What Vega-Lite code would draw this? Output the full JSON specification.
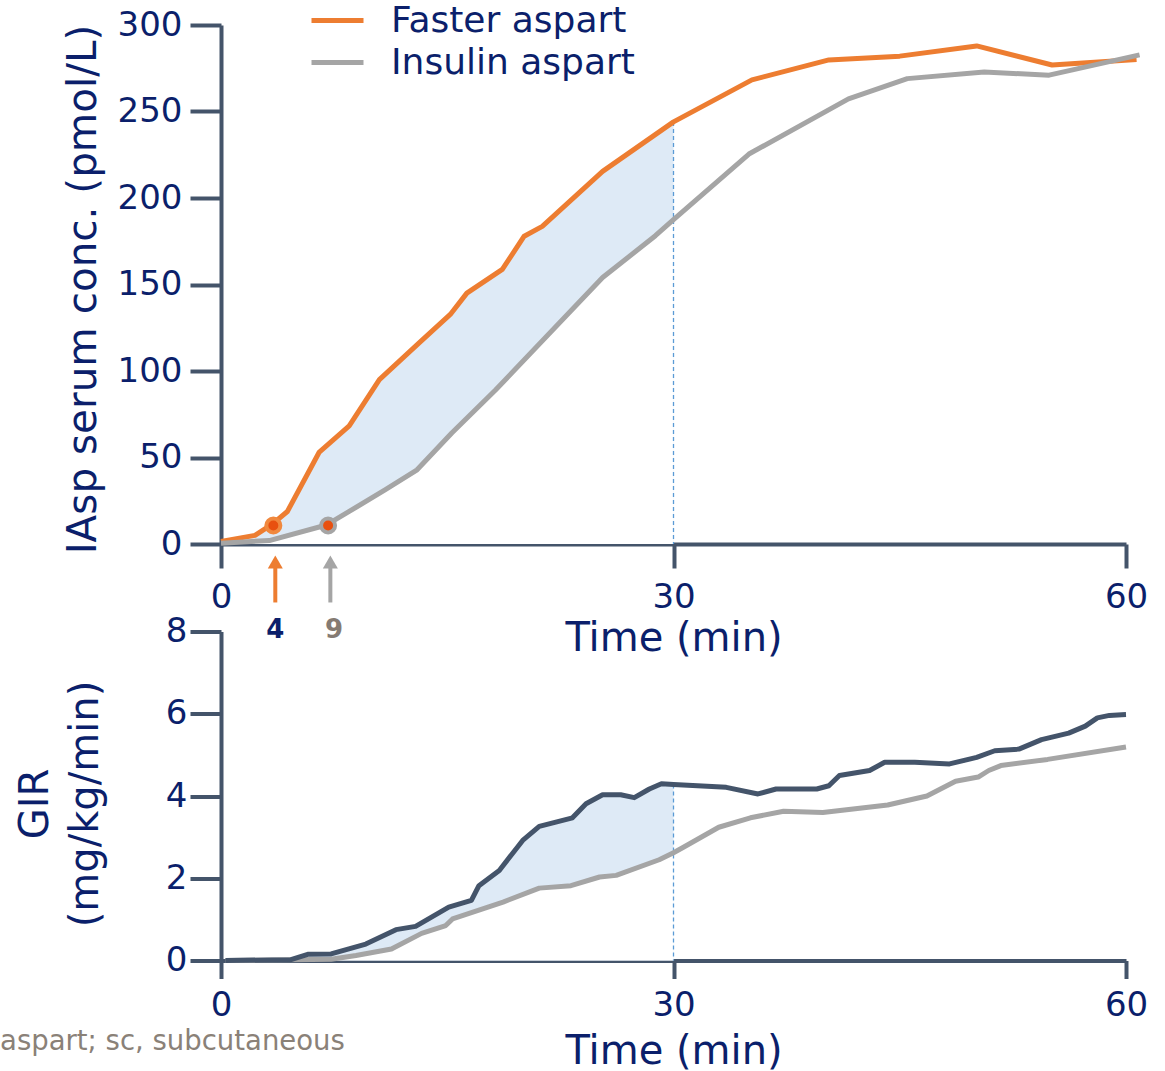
{
  "$schema": "https://vega.github.io/schema/vega-lite/v6.json",
  "background": "white",
  "padding": {"left": 0, "top": 1, "right": 5, "bottom": 0},
  "config": {
    "font": "DejaVu Sans",
    "view": {"stroke": null},
    "axis": {
      "domainColor": "#44546A", "domainWidth": 4, "tickColor": "#44546A", "tickWidth": 4,
      "labelColor": "#0B1F6B", "titleColor": "#0B1F6B", "labelFont": "DejaVu Sans", "titleFont": "DejaVu Sans",
      "labelFontSize": 34, "titleFontSize": 40, "titleFontWeight": "normal", "grid": false, "zindex": 1,
      "labelOverlap": false, "labelFlush": false
    }
  },
  "bounds": "flush",
  "spacing": 87.5,
  "resolve": {"scale": {"x": "independent", "y": "independent", "color": "independent"}},
  "datasets": {
    "iasp": [
      {"series": "Faster aspart", "t": 0, "v": 1.5},
      {"series": "Faster aspart", "t": 2.25, "v": 5},
      {"series": "Faster aspart", "t": 3.4, "v": 11.5},
      {"series": "Faster aspart", "t": 4.4, "v": 18.8},
      {"series": "Faster aspart", "t": 6.5, "v": 52.9},
      {"series": "Faster aspart", "t": 8.5, "v": 68.3},
      {"series": "Faster aspart", "t": 10.5, "v": 95},
      {"series": "Faster aspart", "t": 13.1, "v": 116},
      {"series": "Faster aspart", "t": 15.2, "v": 132.7},
      {"series": "Faster aspart", "t": 16.3, "v": 145},
      {"series": "Faster aspart", "t": 18.65, "v": 158.7},
      {"series": "Faster aspart", "t": 20.1, "v": 177.9},
      {"series": "Faster aspart", "t": 21.3, "v": 183.6},
      {"series": "Faster aspart", "t": 25.3, "v": 215.4},
      {"series": "Faster aspart", "t": 30, "v": 244},
      {"series": "Faster aspart", "t": 35.2, "v": 268.3},
      {"series": "Faster aspart", "t": 40.3, "v": 279.8},
      {"series": "Faster aspart", "t": 45, "v": 282},
      {"series": "Faster aspart", "t": 50.1, "v": 287.9},
      {"series": "Faster aspart", "t": 55.1, "v": 276.9},
      {"series": "Faster aspart", "t": 60.7, "v": 280},
      {"series": "Insulin aspart", "t": 0, "v": 0.5},
      {"series": "Insulin aspart", "t": 3.2, "v": 2},
      {"series": "Insulin aspart", "t": 7, "v": 11},
      {"series": "Insulin aspart", "t": 8.5, "v": 18.8},
      {"series": "Insulin aspart", "t": 10.9, "v": 31.4},
      {"series": "Insulin aspart", "t": 13, "v": 42.9},
      {"series": "Insulin aspart", "t": 15.3, "v": 64.2},
      {"series": "Insulin aspart", "t": 18.2, "v": 89},
      {"series": "Insulin aspart", "t": 25.3, "v": 154},
      {"series": "Insulin aspart", "t": 28.8, "v": 178.2},
      {"series": "Insulin aspart", "t": 30, "v": 187.5},
      {"series": "Insulin aspart", "t": 35, "v": 225.4},
      {"series": "Insulin aspart", "t": 41.6, "v": 257.3},
      {"series": "Insulin aspart", "t": 45.5, "v": 269},
      {"series": "Insulin aspart", "t": 50.6, "v": 272.8},
      {"series": "Insulin aspart", "t": 54.9, "v": 271},
      {"series": "Insulin aspart", "t": 60.9, "v": 282.7}
    ],
    "gir": [
      {"series": "Faster aspart", "t": 0.3, "v": 0},
      {"series": "Faster aspart", "t": 4.64, "v": 0.02},
      {"series": "Faster aspart", "t": 5.75, "v": 0.15},
      {"series": "Faster aspart", "t": 7.3, "v": 0.16},
      {"series": "Faster aspart", "t": 9.6, "v": 0.4},
      {"series": "Faster aspart", "t": 11.6, "v": 0.75},
      {"series": "Faster aspart", "t": 12.9, "v": 0.83},
      {"series": "Faster aspart", "t": 15.1, "v": 1.3},
      {"series": "Faster aspart", "t": 16.6, "v": 1.46},
      {"series": "Faster aspart", "t": 17.1, "v": 1.82},
      {"series": "Faster aspart", "t": 18.45, "v": 2.19},
      {"series": "Faster aspart", "t": 20, "v": 2.92},
      {"series": "Faster aspart", "t": 21.1, "v": 3.26},
      {"series": "Faster aspart", "t": 23.3, "v": 3.47},
      {"series": "Faster aspart", "t": 24.2, "v": 3.81},
      {"series": "Faster aspart", "t": 25.3, "v": 4.03},
      {"series": "Faster aspart", "t": 26.5, "v": 4.03},
      {"series": "Faster aspart", "t": 27.4, "v": 3.96},
      {"series": "Faster aspart", "t": 28.4, "v": 4.17},
      {"series": "Faster aspart", "t": 29.2, "v": 4.3},
      {"series": "Faster aspart", "t": 30, "v": 4.28},
      {"series": "Faster aspart", "t": 33.5, "v": 4.21},
      {"series": "Faster aspart", "t": 35.6, "v": 4.05},
      {"series": "Faster aspart", "t": 36.8, "v": 4.17},
      {"series": "Faster aspart", "t": 39.5, "v": 4.17},
      {"series": "Faster aspart", "t": 40.3, "v": 4.25},
      {"series": "Faster aspart", "t": 41, "v": 4.5},
      {"series": "Faster aspart", "t": 43, "v": 4.62},
      {"series": "Faster aspart", "t": 44, "v": 4.82},
      {"series": "Faster aspart", "t": 46, "v": 4.82},
      {"series": "Faster aspart", "t": 48.3, "v": 4.78},
      {"series": "Faster aspart", "t": 50.1, "v": 4.94},
      {"series": "Faster aspart", "t": 51.3, "v": 5.1},
      {"series": "Faster aspart", "t": 52.9, "v": 5.14},
      {"series": "Faster aspart", "t": 54.4, "v": 5.37},
      {"series": "Faster aspart", "t": 56.2, "v": 5.53},
      {"series": "Faster aspart", "t": 57.3, "v": 5.7},
      {"series": "Faster aspart", "t": 58.1, "v": 5.9},
      {"series": "Faster aspart", "t": 58.9, "v": 5.96},
      {"series": "Faster aspart", "t": 60, "v": 5.98},
      {"series": "Insulin aspart", "t": 0.3, "v": 0},
      {"series": "Insulin aspart", "t": 7.3, "v": 0.03},
      {"series": "Insulin aspart", "t": 8.95, "v": 0.12},
      {"series": "Insulin aspart", "t": 11.3, "v": 0.28},
      {"series": "Insulin aspart", "t": 13.3, "v": 0.66},
      {"series": "Insulin aspart", "t": 14.9, "v": 0.85},
      {"series": "Insulin aspart", "t": 15.35, "v": 1.01},
      {"series": "Insulin aspart", "t": 18.7, "v": 1.42},
      {"series": "Insulin aspart", "t": 21.1, "v": 1.76},
      {"series": "Insulin aspart", "t": 23.2, "v": 1.82},
      {"series": "Insulin aspart", "t": 25.1, "v": 2.03},
      {"series": "Insulin aspart", "t": 26.2, "v": 2.07},
      {"series": "Insulin aspart", "t": 29.05, "v": 2.45},
      {"series": "Insulin aspart", "t": 30, "v": 2.62},
      {"series": "Insulin aspart", "t": 30.6, "v": 2.74},
      {"series": "Insulin aspart", "t": 33, "v": 3.24},
      {"series": "Insulin aspart", "t": 35.1, "v": 3.47},
      {"series": "Insulin aspart", "t": 37.3, "v": 3.63},
      {"series": "Insulin aspart", "t": 39.9, "v": 3.6},
      {"series": "Insulin aspart", "t": 44.2, "v": 3.78},
      {"series": "Insulin aspart", "t": 46.8, "v": 4.0},
      {"series": "Insulin aspart", "t": 48.7, "v": 4.36},
      {"series": "Insulin aspart", "t": 50.2, "v": 4.46},
      {"series": "Insulin aspart", "t": 50.9, "v": 4.62},
      {"series": "Insulin aspart", "t": 51.7, "v": 4.74},
      {"series": "Insulin aspart", "t": 54.8, "v": 4.89},
      {"series": "Insulin aspart", "t": 60, "v": 5.19}
    ],
    "onset": [
      {"series": "Faster aspart", "t": 3.47, "v": 10.7, "arrow_t": 3.6, "label_t": 3.6, "label": "4"},
      {"series": "Insulin aspart", "t": 7.1, "v": 10.7, "arrow_t": 7.25, "label_t": 7.5, "label": "9"}
    ]
  },
  "vconcat": [
    {
      "width": 905,
      "height": 519,
      "layer": [
        {
          "data": {"name": "iasp"},
          "transform": [{"filter": "datum.series === 'Faster aspart' && datum.t <= 30"}],
          "mark": {"type": "area", "color": "#DEEAF6", "opacity": 1},
          "encoding": {
            "x": {"field": "t", "type": "quantitative", "scale": {"domain": [0, 60], "nice": false},
              "axis": {"values": [0, 30, 60], "title": "Time (min)", "tickSize": 24, "labelPadding": 12, "titlePadding": 4}},
            "y": {"field": "v", "type": "quantitative", "scale": {"domain": [0, 300], "nice": false},
              "axis": {"values": [0, 50, 100, 150, 200, 250, 300], "title": "IAsp serum conc. (pmol/L)", "titleFontSize": 40.5, "titleY": 264, "tickSize": 31, "labelPadding": 8, "titlePadding": 13}}
          }
        },
        {
          "data": {"name": "iasp"},
          "transform": [{"filter": "datum.series === 'Insulin aspart' && datum.t <= 30"}],
          "mark": {"type": "area", "color": "white", "opacity": 1},
          "encoding": {
            "x": {"field": "t", "type": "quantitative"},
            "y": {"field": "v", "type": "quantitative"}
          }
        },
        {
          "data": {"name": "iasp"},
          "transform": [{"filter": "datum.series === 'Faster aspart' && datum.t === 30"}],
          "mark": {"type": "rule", "color": "#5B9BD5", "strokeWidth": 1.3, "strokeDash": [4, 3]},
          "encoding": {
            "x": {"field": "t", "type": "quantitative"},
            "y": {"field": "v", "type": "quantitative"},
            "y2": {"datum": 0}
          }
        },
        {
          "data": {"name": "iasp"},
          "mark": {"type": "line", "strokeWidth": 5, "strokeJoin": "round"},
          "encoding": {
            "x": {"field": "t", "type": "quantitative"},
            "y": {"field": "v", "type": "quantitative"},
            "color": {"field": "series", "type": "nominal",
              "scale": {"domain": ["Faster aspart", "Insulin aspart"], "range": ["#ED7D31", "#A5A5A5"]},
              "legend": {"orient": "none", "legendX": 88, "legendY": -23.5, "title": null, "symbolType": "stroke",
                "symbolStrokeWidth": 5, "symbolSize": 2704, "labelFontSize": 36, "labelColor": "#0B1F6B",
                "labelOffset": 25, "rowPadding": 4, "padding": 0, "clipHeight": 38, "labelLimit": 400}}
          }
        },
        {
          "data": {"name": "onset"},
          "mark": {"type": "rule", "strokeWidth": 4},
          "encoding": {
            "x": {"field": "arrow_t", "type": "quantitative"},
            "y": {"datum": -10.4, "type": "quantitative"},
            "y2": {"datum": -33.8},
            "color": {"condition": {"test": "datum.label === '4'", "value": "#ED7D31"}, "value": "#A5A5A5"}
          }
        },
        {
          "data": {"name": "onset"},
          "mark": {"type": "point", "shape": "triangle-up", "filled": true, "size": 225, "opacity": 1},
          "encoding": {
            "x": {"field": "arrow_t", "type": "quantitative"},
            "y": {"datum": -10.4, "type": "quantitative"},
            "color": {"condition": {"test": "datum.label === '4'", "value": "#ED7D31"}, "value": "#A5A5A5"}
          }
        },
        {
          "data": {"name": "onset"},
          "mark": {"type": "text", "fontSize": 26, "fontWeight": "bold", "baseline": "middle", "align": "center"},
          "encoding": {
            "x": {"field": "label_t", "type": "quantitative"},
            "y": {"datum": -49.5, "type": "quantitative"},
            "text": {"field": "label", "type": "nominal"},
            "color": {"condition": {"test": "datum.label === '4'", "value": "#0B1F6B"}, "value": "#857B73"}
          }
        },
        {
          "data": {"name": "onset"},
          "mark": {"type": "point", "filled": true, "size": 196, "fill": "#E8500F", "strokeWidth": 4, "opacity": 1},
          "encoding": {
            "x": {"field": "t", "type": "quantitative"},
            "y": {"field": "v", "type": "quantitative"},
            "stroke": {"condition": {"test": "datum.label === '4'", "value": "#F0883E"}, "value": "#A5A5A5"}
          }
        }
      ]
    },
    {
      "width": 905,
      "height": 329,
      "layer": [
        {
          "data": {"name": "gir"},
          "transform": [{"filter": "datum.series === 'Faster aspart' && datum.t <= 30"}],
          "mark": {"type": "area", "color": "#DEEAF6", "opacity": 1},
          "encoding": {
            "x": {"field": "t", "type": "quantitative", "scale": {"domain": [0, 60], "nice": false},
              "axis": {"values": [0, 30, 60], "title": "Time (min)", "tickSize": 18, "labelPadding": 10, "titlePadding": 9}},
            "y": {"field": "v", "type": "quantitative", "scale": {"domain": [0, 8], "nice": false},
              "axis": {"values": [0, 2, 4, 6, 8], "title": ["GIR", "(mg/kg/min)"], "titleLineHeight": 50, "titleY": 172, "tickSize": 31, "labelPadding": 3, "titlePadding": 60}}
          }
        },
        {
          "data": {"name": "gir"},
          "transform": [{"filter": "datum.series === 'Insulin aspart' && datum.t <= 30"}],
          "mark": {"type": "area", "color": "white", "opacity": 1},
          "encoding": {
            "x": {"field": "t", "type": "quantitative"},
            "y": {"field": "v", "type": "quantitative"}
          }
        },
        {
          "data": {"name": "gir"},
          "transform": [{"filter": "datum.series === 'Faster aspart' && datum.t === 30"}],
          "mark": {"type": "rule", "color": "#5B9BD5", "strokeWidth": 1.3, "strokeDash": [4, 3]},
          "encoding": {
            "x": {"field": "t", "type": "quantitative"},
            "y": {"field": "v", "type": "quantitative"},
            "y2": {"datum": 0}
          }
        },
        {
          "data": {"name": "gir"},
          "transform": [{"filter": "datum.series === 'Insulin aspart'"}],
          "mark": {"type": "line", "strokeWidth": 5, "strokeJoin": "round", "color": "#A5A5A5"},
          "encoding": {
            "x": {"field": "t", "type": "quantitative"},
            "y": {"field": "v", "type": "quantitative"}
          }
        },
        {
          "data": {"name": "gir"},
          "transform": [{"filter": "datum.series === 'Faster aspart'"}],
          "mark": {"type": "line", "strokeWidth": 5, "strokeJoin": "round", "color": "#44546A"},
          "encoding": {
            "x": {"field": "t", "type": "quantitative"},
            "y": {"field": "v", "type": "quantitative"}
          }
        },
        {
          "data": {"values": [{"t": -14.65, "v": -1.97, "note": "aspart; sc, subcutaneous"}]},
          "mark": {"type": "text", "align": "left", "baseline": "middle", "fontSize": 27.5, "color": "#8A8178"},
          "encoding": {
            "x": {"field": "t", "type": "quantitative"},
            "y": {"field": "v", "type": "quantitative"},
            "text": {"field": "note", "type": "nominal"}
          }
        }
      ]
    }
  ]
}
